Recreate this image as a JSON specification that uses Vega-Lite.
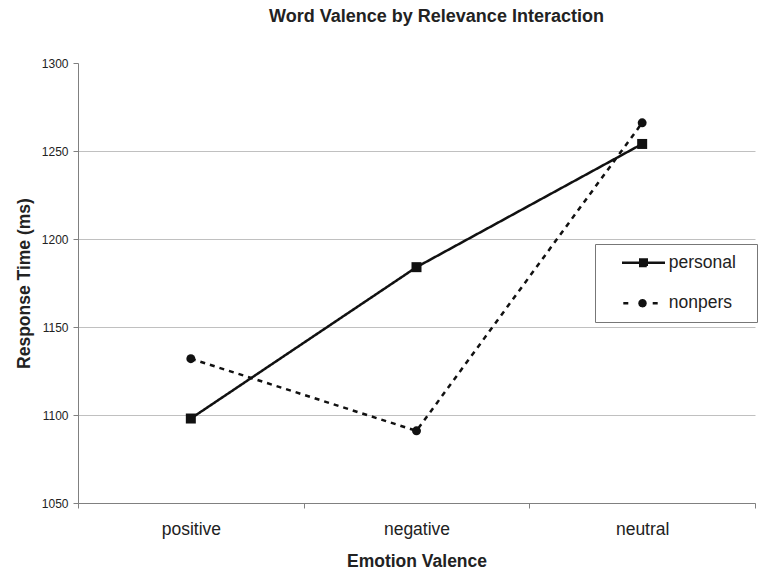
{
  "$schema": "https://vega.github.io/schema/vega-lite/v6.json",
  "width": 677,
  "height": 440,
  "autosize": {"type": "none"},
  "padding": {"left": 78, "top": 63, "right": 16, "bottom": 71},
  "background": "white",
  "config": {
    "font": "Liberation Sans",
    "view": {"stroke": null}
  },
  "title": {
    "text": "Word Valence by Relevance Interaction",
    "fontSize": 18,
    "fontWeight": "bold",
    "font": "Liberation Sans",
    "color": "#222222",
    "anchor": "middle",
    "frame": "group",
    "baseline": "alphabetic",
    "offset": 17,
    "dx": 20
  },
  "data": {
    "values": [
      {"valence": "positive", "relevance": "personal", "rt": 1098},
      {"valence": "negative", "relevance": "personal", "rt": 1184},
      {"valence": "neutral", "relevance": "personal", "rt": 1254},
      {"valence": "positive", "relevance": "nonpers", "rt": 1132},
      {"valence": "negative", "relevance": "nonpers", "rt": 1091},
      {"valence": "neutral", "relevance": "nonpers", "rt": 1266}
    ]
  },
  "encoding": {
    "x": {
      "field": "valence",
      "type": "nominal",
      "sort": ["positive", "negative", "neutral"],
      "bandPosition": 0.5,
      "scale": {"type": "band", "paddingInner": 0, "paddingOuter": 0},
      "axis": {
        "title": "Emotion Valence",
        "titleFontSize": 17.5,
        "titleFontWeight": "bold",
        "titleColor": "#222222",
        "titleBaseline": "alphabetic",
        "titleX": 338.5,
        "titleY": 63,
        "labelAngle": 0,
        "labelFontSize": 17.5,
        "labelColor": "#222222",
        "labelBaseline": "alphabetic",
        "labelPadding": 26,
        "tickBand": "extent",
        "tickSize": 5,
        "tickColor": "#808080",
        "domainColor": "#808080",
        "grid": false
      }
    },
    "y": {
      "field": "rt",
      "type": "quantitative",
      "scale": {"domain": [1050, 1300], "nice": false, "zero": false},
      "axis": {
        "title": "Response Time (ms)",
        "titleFontSize": 17.5,
        "titleFontWeight": "bold",
        "titleColor": "#222222",
        "titleBaseline": "alphabetic",
        "titleX": -49,
        "titleY": 220,
        "values": [1050, 1100, 1150, 1200, 1250, 1300],
        "format": "d",
        "labelFontSize": 12,
        "labelColor": "#222222",
        "labelPadding": 5,
        "tickSize": 5,
        "tickColor": "#808080",
        "domainColor": "#808080",
        "grid": true,
        "gridColor": "#c0c0c0",
        "gridOpacity": {"condition": {"test": "datum.value == 1300", "value": 0}, "value": 1}
      }
    }
  },
  "layer": [
    {
      "mark": {"type": "line", "color": "#111111", "strokeWidth": 2.5},
      "encoding": {
        "detail": {"field": "relevance"},
        "strokeDash": {
          "field": "relevance",
          "type": "nominal",
          "scale": {"domain": ["nonpers", "personal"], "range": [[5, 5], [1, 0]]},
          "legend": null
        },
        "opacity": {
          "field": "relevance",
          "type": "nominal",
          "scale": {"domain": ["personal", "nonpers"], "range": [1, 1]},
          "legend": {
            "title": "\u00a0",
            "titleOrient": "right",
            "titlePadding": 11,
            "titleFontSize": 17.5,
            "orient": "none",
            "legendX": 517,
            "legendY": 181,
            "padding": 10,
            "strokeColor": "#777777",
            "fillColor": "white",
            "symbolSize": 100,
            "symbolStrokeWidth": 2.5,
            "symbolStrokeColor": "#111111",
            "symbolFillColor": "#111111",
            "symbolOffset": 29.75,
            "labelOffset": 16.5,
            "labelFontSize": 17.5,
            "labelColor": "#222222",
            "rowPadding": 21.5,
            "encode": {
              "symbols": {
                "update": {
                  "shape": {"signal": "datum.value === 'personal' ? 'M-4.3,0L4.3,0M-0.65,-0.65L0.65,-0.65L0.65,0.65L-0.65,0.65Z' : 'M-4.04,0L-3.04,0M1.84,0L2.84,0M0.4,0L0.32,0.3L0.1,0.52L-0.2,0.6L-0.5,0.52L-0.72,0.3L-0.8,0L-0.72,-0.3L-0.5,-0.52L-0.2,-0.6L0.1,-0.52L0.32,-0.3Z'"},
                  "size": {"value": 100},
                  "strokeDash": {"value": [1, 0]},
                  "fill": {"value": "#111111"},
                  "stroke": {"value": "#111111"},
                  "strokeWidth": {"value": 2.5}
                }
              }
            }
          }
        }
      }
    },
    {
      "mark": {"type": "point", "filled": true, "color": "#111111", "opacity": 1},
      "encoding": {
        "shape": {
          "field": "relevance",
          "type": "nominal",
          "scale": {"domain": ["nonpers", "personal"], "range": ["circle", "square"]},
          "legend": null
        },
        "size": {
          "field": "relevance",
          "type": "nominal",
          "scale": {"domain": ["nonpers", "personal"], "range": [80, 100]},
          "legend": null
        }
      }
    }
  ]
}
